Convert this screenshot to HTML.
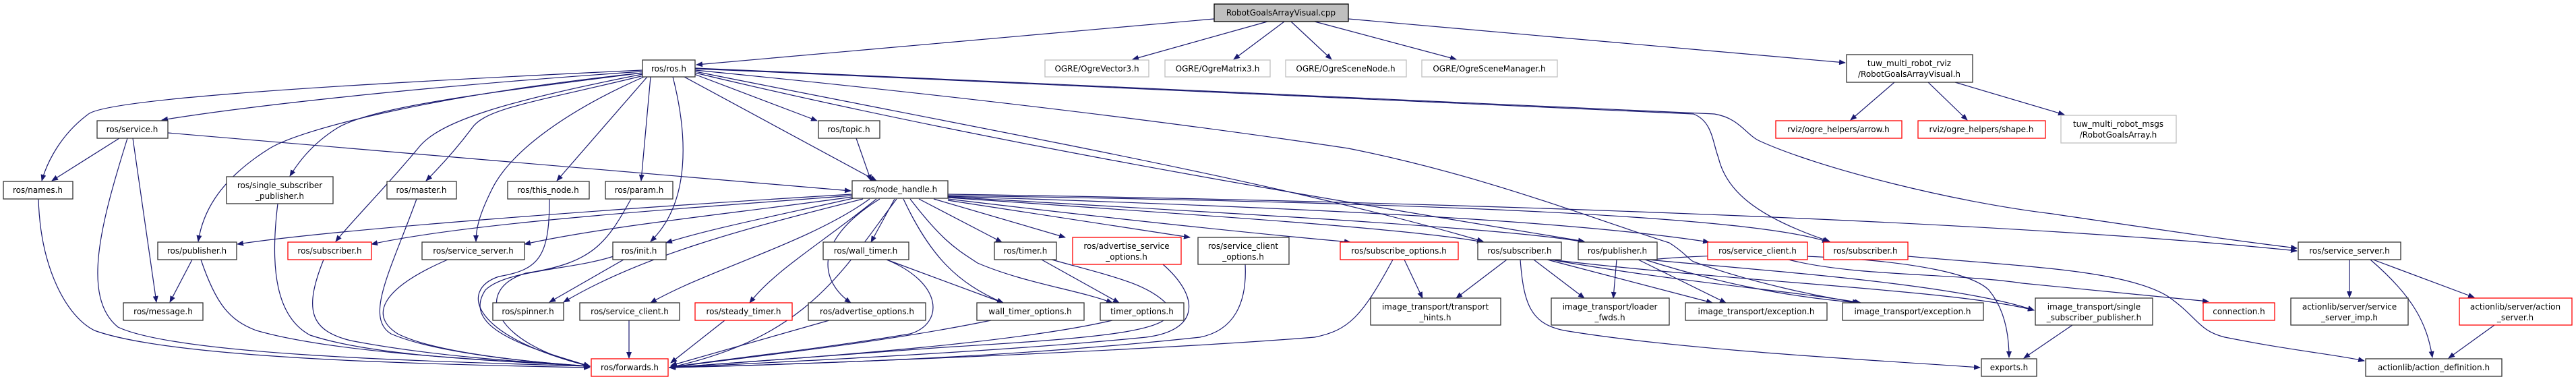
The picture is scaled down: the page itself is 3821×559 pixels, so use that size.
<!DOCTYPE html>
<html><head><meta charset="utf-8"><style>
html,body{margin:0;padding:0;background:#fff;}
svg{display:block;}
text{font-family:"DejaVu Sans","Liberation Sans",sans-serif;font-size:12px;fill:#000;text-anchor:middle;}
.e{fill:none;stroke:#191970;stroke-width:1.2;marker-end:url(#a);}
.n{fill:#fff;stroke:#333;stroke-width:1.3;}
.r{fill:#fff;stroke:#f00;stroke-width:1.3;}
.g{fill:#fff;stroke:#bfbfbf;stroke-width:1.3;}
</style></head><body>
<svg width="3821" height="559" viewBox="0 0 3821 559" xmlns="http://www.w3.org/2000/svg">
<defs><marker id="a" markerWidth="10" markerHeight="8" refX="9" refY="4" orient="auto" markerUnits="userSpaceOnUse"><path d="M0,0 L10,4 L0,8 z" fill="#191970"/></marker></defs>
<g>
<path class="e" d="M1801,28 L1033,96"/>
<path class="e" d="M1880,32 L1680,88"/>
<path class="e" d="M1905,32 L1830,88"/>
<path class="e" d="M1915,32 L1975,88"/>
<path class="e" d="M1950,32 L2160,88"/>
<path class="e" d="M2000,28 L2737,93"/>
<path class="e" d="M2810,122 L2745,178"/>
<path class="e" d="M2860,122 L2918,178"/>
<path class="e" d="M2900,122 L3062,170"/>
<path class="e" d="M953,104 C400,130 150,150 130,170 C90,200 70,240 62,268"/>
<path class="e" d="M953,106 C600,130 350,160 240,178"/>
<path class="e" d="M953,108 C700,140 550,160 500,190 C460,215 440,245 430,261"/>
<path class="e" d="M953,108 C650,140 450,190 400,220 C320,270 300,320 294,358"/>
<path class="e" d="M953,110 C750,150 650,180 620,220 C570,280 520,330 498,358"/>
<path class="e" d="M955,112 C800,150 720,160 700,190 C670,230 640,260 632,268"/>
<path class="e" d="M955,114 C850,160 760,220 730,280 C710,320 706,340 706,358"/>
<path class="e" d="M960,114 L826,268"/>
<path class="e" d="M965,114 L951,268"/>
<path class="e" d="M998,114 C1020,200 1025,300 965,358"/>
<path class="e" d="M1030,110 L1212,179"/>
<path class="e" d="M1015,114 L1300,268"/>
<path class="e" d="M1031,101 C1700,130 2400,160 2543,169 C2580,175 2590,200 2610,209 C2700,250 2900,300 3044,317 C3200,340 3300,355 3407,368"/>
<path class="e" d="M1031,102 C1700,130 2400,160 2512,169 C2540,180 2540,210 2549,234 C2560,280 2600,320 2714,358"/>
<path class="e" d="M1031,104 C1500,150 1800,190 2000,220 C2200,260 2350,320 2476,360 C2500,375 2505,385 2512,388 C2600,420 2700,440 2757,449"/>
<path class="e" d="M1031,106 C1500,200 1900,270 2200,358"/>
<path class="e" d="M1031,108 C1500,220 2000,300 2350,358"/>
<path class="e" d="M177,205 L77,268"/>
<path class="e" d="M197,205 L232,448"/>
<path class="e" d="M249,197 L1262,283"/>
<path class="e" d="M57,295 C60,400 100,470 140,490 C250,530 600,540 875,545"/>
<path class="e" d="M189,205 C150,330 120,440 175,485 C260,525 600,535 875,543"/>
<path class="e" d="M412,302 C400,400 410,470 460,497 C560,530 750,535 875,543"/>
<path class="e" d="M298,385 C320,450 340,475 380,490 C500,525 750,535 875,543"/>
<path class="e" d="M285,385 L252,448"/>
<path class="e" d="M480,385 C450,460 460,490 520,505 C650,530 800,538 875,543"/>
<path class="e" d="M618,295 C580,400 540,470 580,495 C650,525 800,538 875,543"/>
<path class="e" d="M664,385 C560,430 550,470 590,495 C650,525 800,538 875,543"/>
<path class="e" d="M815,295 C815,380 800,400 740,410 C680,430 700,500 875,543"/>
<path class="e" d="M936,295 C900,360 880,390 780,405 C700,430 730,510 875,543"/>
<path class="e" d="M910,380 C850,400 750,400 720,430 C680,490 800,520 875,543"/>
<path class="e" d="M925,385 L815,448"/>
<path class="e" d="M933,475 L933,531"/>
<path class="e" d="M1270,205 L1292,268"/>
<path class="e" d="M1264,288 C900,310 500,340 352,362"/>
<path class="e" d="M1264,290 C1000,310 700,330 551,362"/>
<path class="e" d="M1264,292 C1100,315 900,335 778,362"/>
<path class="e" d="M1266,294 C1150,320 1050,340 988,360"/>
<path class="e" d="M1280,295 C1100,340 950,380 836,448"/>
<path class="e" d="M1290,295 C1200,360 1050,400 965,449"/>
<path class="e" d="M1300,295 C1220,360 1150,400 1112,449"/>
<path class="e" d="M1305,295 C1200,360 1220,420 1262,449"/>
<path class="e" d="M1327,295 L1292,359"/>
<path class="e" d="M1340,295 C1380,380 1420,420 1488,449"/>
<path class="e" d="M1363,295 L1486,359"/>
<path class="e" d="M1350,295 C1400,360 1420,370 1450,390 C1520,420 1600,430 1650,449"/>
<path class="e" d="M1385,295 L1580,352"/>
<path class="e" d="M1406,297 L1765,352"/>
<path class="e" d="M1406,295 C1700,330 1900,350 2003,359"/>
<path class="e" d="M1406,293 C1800,320 2100,340 2200,359"/>
<path class="e" d="M1406,292 C1900,320 2250,340 2350,359"/>
<path class="e" d="M1406,291 C2000,310 2350,330 2535,359"/>
<path class="e" d="M1406,290 C2100,300 2600,320 2712,359"/>
<path class="e" d="M1406,288 C2200,300 3000,330 3407,372"/>
<path class="e" d="M1330,295 C1250,400 1200,500 993,545"/>
<path class="e" d="M1075,475 L995,538"/>
<path class="e" d="M1230,475 L995,542"/>
<path class="e" d="M1315,385 L1488,449"/>
<path class="e" d="M1315,385 C1400,420 1400,480 1350,495 C1200,520 1050,535 993,545"/>
<path class="e" d="M1545,385 L1660,449"/>
<path class="e" d="M1560,385 C1650,410 1700,420 1730,450 C1760,490 1650,500 1400,515 C1200,530 1050,540 993,545"/>
<path class="e" d="M1470,475 C1300,510 1100,530 993,545"/>
<path class="e" d="M1650,475 C1500,510 1200,530 993,545"/>
<path class="e" d="M1725,392 C1780,440 1780,490 1700,500 C1500,520 1200,535 993,545"/>
<path class="e" d="M1847,392 C1850,450 1830,490 1780,500 C1500,530 1200,540 993,545"/>
<path class="e" d="M2066,385 C2020,470 2000,490 1950,500 C1700,520 1200,540 993,545"/>
<path class="e" d="M2083,385 L2110,442"/>
<path class="e" d="M2235,385 L2160,442"/>
<path class="e" d="M2275,385 L2350,442"/>
<path class="e" d="M2295,385 L2540,449"/>
<path class="e" d="M2300,385 C2500,420 2650,430 2760,449"/>
<path class="e" d="M2300,385 C2600,420 2900,430 3017,460"/>
<path class="e" d="M2255,385 C2260,450 2270,480 2320,490 C2500,520 2800,535 2937,545"/>
<path class="e" d="M2398,385 L2393,442"/>
<path class="e" d="M2430,385 L2560,449"/>
<path class="e" d="M2440,385 C2550,420 2650,440 2757,449"/>
<path class="e" d="M2445,385 C2600,400 2900,420 3017,460"/>
<path class="e" d="M2450,385 C2600,370 2900,380 2950,430 C2975,460 2980,500 2980,530"/>
<path class="e" d="M2653,385 C2750,410 2900,405 3000,420 C3100,430 3200,440 3276,447"/>
<path class="e" d="M2830,380 C3000,395 3150,400 3215,439 C3260,470 3260,490 3300,500 C3400,520 3460,525 3507,535"/>
<path class="e" d="M3485,385 L3485,441"/>
<path class="e" d="M3516,385 C3580,440 3600,480 3608,530"/>
<path class="e" d="M3520,385 L3670,441"/>
<path class="e" d="M3700,482 L3632,531"/>
<path class="e" d="M3074,482 L3002,531"/>
</g>
<rect x="1801" y="6" width="199" height="26" fill="#bfbfbf" stroke="#000" stroke-width="1.3"/><text x="1900" y="23">RobotGoalsArrayVisual.cpp</text>
<rect class="n" x="953" y="89" width="78" height="25"/><text x="992" y="106">ros/ros.h</text>
<rect class="g" x="1550" y="89" width="154" height="25"/><text x="1627" y="106">OGRE/OgreVector3.h</text>
<rect class="g" x="1728" y="89" width="156" height="25"/><text x="1806" y="106">OGRE/OgreMatrix3.h</text>
<rect class="g" x="1907" y="89" width="179" height="25"/><text x="1996" y="106">OGRE/OgreSceneNode.h</text>
<rect class="g" x="2109" y="89" width="201" height="25"/><text x="2209" y="106">OGRE/OgreSceneManager.h</text>
<rect class="n" x="2739" y="81" width="187" height="41"/><text x="2832" y="98">tuw_multi_robot_rviz</text><text x="2832" y="114">/RobotGoalsArrayVisual.h</text>
<rect class="n" x="144" y="179" width="105" height="26"/><text x="196" y="196">ros/service.h</text>
<rect class="n" x="1214" y="179" width="91" height="26"/><text x="1259" y="196">ros/topic.h</text>
<rect class="r" x="2634" y="179" width="187" height="26"/><text x="2727" y="196">rviz/ogre_helpers/arrow.h</text>
<rect class="r" x="2845" y="179" width="189" height="26"/><text x="2939" y="196">rviz/ogre_helpers/shape.h</text>
<rect class="g" x="3057" y="171" width="171" height="41"/><text x="3142" y="188">tuw_multi_robot_msgs</text><text x="3142" y="204">/RobotGoalsArray.h</text>
<rect class="n" x="5" y="269" width="103" height="26"/><text x="56" y="286">ros/names.h</text>
<rect class="n" x="336" y="262" width="158" height="40"/><text x="415" y="279">ros/single_subscriber</text><text x="415" y="295">_publisher.h</text>
<rect class="n" x="574" y="269" width="103" height="26"/><text x="625" y="286">ros/master.h</text>
<rect class="n" x="753" y="269" width="121" height="26"/><text x="813" y="286">ros/this_node.h</text>
<rect class="n" x="898" y="269" width="100" height="26"/><text x="948" y="286">ros/param.h</text>
<rect class="n" x="1264" y="268" width="142" height="26"/><text x="1335" y="285">ros/node_handle.h</text>
<rect class="n" x="234" y="359" width="117" height="26"/><text x="292" y="376">ros/publisher.h</text>
<rect class="r" x="427" y="359" width="124" height="26"/><text x="489" y="376">ros/subscriber.h</text>
<rect class="n" x="626" y="359" width="152" height="26"/><text x="702" y="376">ros/service_server.h</text>
<rect class="n" x="909" y="359" width="79" height="26"/><text x="948" y="376">ros/init.h</text>
<rect class="n" x="1221" y="359" width="127" height="26"/><text x="1284" y="376">ros/wall_timer.h</text>
<rect class="n" x="1475" y="359" width="92" height="26"/><text x="1521" y="376">ros/timer.h</text>
<rect class="r" x="1591" y="352" width="161" height="40"/><text x="1671" y="369">ros/advertise_service</text><text x="1671" y="385">_options.h</text>
<rect class="n" x="1777" y="352" width="135" height="40"/><text x="1844" y="369">ros/service_client</text><text x="1844" y="385">_options.h</text>
<rect class="r" x="1988" y="359" width="175" height="26"/><text x="2075" y="376">ros/subscribe_options.h</text>
<rect class="n" x="2192" y="359" width="124" height="26"/><text x="2254" y="376">ros/subscriber.h</text>
<rect class="n" x="2341" y="359" width="117" height="26"/><text x="2399" y="376">ros/publisher.h</text>
<rect class="r" x="2533" y="359" width="148" height="26"/><text x="2607" y="376">ros/service_client.h</text>
<rect class="r" x="2705" y="359" width="125" height="26"/><text x="2767" y="376">ros/subscriber.h</text>
<rect class="n" x="3409" y="359" width="152" height="26"/><text x="3485" y="376">ros/service_server.h</text>
<rect class="n" x="183" y="449" width="118" height="26"/><text x="242" y="466">ros/message.h</text>
<rect class="n" x="731" y="449" width="105" height="26"/><text x="783" y="466">ros/spinner.h</text>
<rect class="n" x="860" y="449" width="148" height="26"/><text x="934" y="466">ros/service_client.h</text>
<rect class="r" x="1031" y="449" width="144" height="26"/><text x="1103" y="466">ros/steady_timer.h</text>
<rect class="n" x="1199" y="449" width="174" height="26"/><text x="1286" y="466">ros/advertise_options.h</text>
<rect class="n" x="1449" y="449" width="159" height="26"/><text x="1528" y="466">wall_timer_options.h</text>
<rect class="n" x="1632" y="449" width="124" height="26"/><text x="1694" y="466">timer_options.h</text>
<rect class="n" x="2033" y="442" width="193" height="40"/><text x="2129" y="459">image_transport/transport</text><text x="2129" y="475">_hints.h</text>
<rect class="n" x="2301" y="442" width="175" height="40"/><text x="2388" y="459">image_transport/loader</text><text x="2388" y="475">_fwds.h</text>
<rect class="n" x="2500" y="449" width="210" height="26"/><text x="2605" y="466">image_transport/exception.h</text>
<rect class="n" x="2733" y="449" width="209" height="26"/><text x="2837" y="466">image_transport/exception.h</text>
<rect class="n" x="3019" y="442" width="174" height="40"/><text x="3106" y="459">image_transport/single</text><text x="3106" y="475">_subscriber_publisher.h</text>
<rect class="r" x="3268" y="449" width="106" height="26"/><text x="3321" y="466">connection.h</text>
<rect class="n" x="3398" y="442" width="174" height="40"/><text x="3485" y="459">actionlib/server/service</text><text x="3485" y="475">_server_imp.h</text>
<rect class="r" x="3648" y="442" width="167" height="40"/><text x="3731" y="459">actionlib/server/action</text><text x="3731" y="475">_server.h</text>
<rect class="r" x="877" y="532" width="114" height="26"/><text x="934" y="549">ros/forwards.h</text>
<rect class="n" x="2939" y="532" width="82" height="26"/><text x="2980" y="549">exports.h</text>
<rect class="n" x="3509" y="532" width="202" height="26"/><text x="3610" y="549">actionlib/action_definition.h</text>
</svg>
</body></html>
